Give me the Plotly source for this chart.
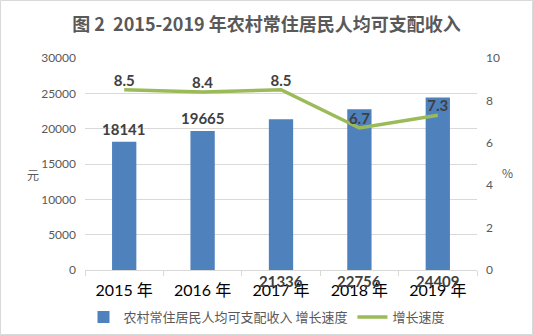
import plotly.graph_objects as go

years = ["2015 年", "2016 年", "2017 年", "2018 年", "2019 年"]
income = [18141, 19665, 21336, 22756, 24409]
growth = [8.5, 8.4, 8.5, 6.7, 7.3]
label_above = [True, True, False, False, False]

BLUE = "#4F81BD"
GREEN = "#9BBB59"
GRAY = "#595959"
FONT = "Noto Sans CJK SC, Lato, sans-serif"

fig = go.Figure()
fig.add_trace(go.Bar(
    x=years, y=income, name="农村常住居民人均可支配收入 增长速度",
    marker=dict(color=BLUE, line=dict(width=0)), width=0.31,
))
fig.add_trace(go.Scatter(
    x=years, y=growth, name="增长速度", yaxis="y2",
    mode="lines+text", line=dict(color=GREEN, width=3.5),
    text=[f"<b>{v:.1f}</b>" for v in growth], textposition="top center",
    textfont=dict(family="Lato, sans-serif", size=15, color="#404040"),
))

for x, v, above in zip(years, income, label_above):
    fig.add_annotation(
        x=x, y=v if above else 0, yref="y", text=f"<b>{v}</b>", showarrow=False,
        yshift=13 if above else -11,
        font=dict(family="Lato, sans-serif", size=15, color="#404040"),
    )

fig.update_layout(
    width=533, height=335,
    margin=dict(l=85, r=56, t=58, b=65),
    paper_bgcolor="white", plot_bgcolor="white",
    bargap=0.69,
    title=dict(text="<b>图 2  2015-2019 年农村常住居民人均可支配收入</b>",
               x=0.5, xanchor="center", y=1 - 25 / 335, yanchor="middle",
               font=dict(family=FONT, size=18, color=GRAY)),
    xaxis=dict(type="category", tickson="boundaries", ticks="outside", ticklen=5,
               tickcolor="#d9d9d9", showline=True, linecolor="#d9d9d9",
               tickfont=dict(family="Lato, Noto Sans CJK SC, sans-serif", size=16, color="black"),
               showgrid=False, ticklabelstandoff=6, automargin=False),
    yaxis=dict(range=[0, 30000], dtick=5000, tickformat="d", showgrid=True, gridcolor="#d9d9d9",
               zeroline=False, tickfont=dict(family="Lato, sans-serif", size=12, color=GRAY),
               ticklabelstandoff=8, automargin=False),
    yaxis2=dict(range=[0, 10], dtick=2, tickformat="d", overlaying="y", side="right", showgrid=False,
                zeroline=False, tickfont=dict(family="Lato, sans-serif", size=12, color=GRAY),
                ticklabelstandoff=8, automargin=False),
    legend=dict(orientation="h", x=0.5, xanchor="center", xref="container",
                y=(335 - 317) / 335, yanchor="middle", yref="container",
                font=dict(family=FONT, size=13, color=GRAY), itemwidth=30,
                bgcolor="rgba(0,0,0,0)"),
    showlegend=True,
)

# axis unit labels
fig.add_annotation(xref="paper", yref="paper", x=-60 / 392, y=0.45, text="元",
                   showarrow=False, font=dict(family=FONT, size=12, color=GRAY))
fig.add_annotation(xref="paper", yref="paper", x=1 + 38 / 392, y=0.46, text="%",
                   showarrow=False, font=dict(family=FONT, size=12, color=GRAY))

# chart border
fig.add_shape(type="rect", xref="paper", yref="paper",
              x0=-84.5 / 392, x1=1 + 55.5 / 392, y0=-64.5 / 212, y1=1 + 57.5 / 212,
              line=dict(color="#d9d9d9", width=1), layer="below")

fig.write_html("out.html")
